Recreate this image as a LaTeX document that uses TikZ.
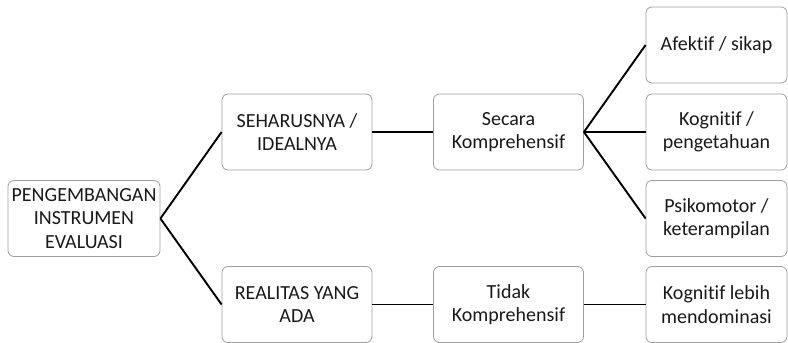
\documentclass[tikz,border=0pt]{standalone}
\usepackage{fontspec}
\setmainfont{Carlito}[Ligatures=NoCommon]
\usetikzlibrary{positioning}

\begin{document}
\begin{tikzpicture}[x=1pt, y=-1pt,
  every node/.style={font=\fontsize{20}{23.5}\selectfont, text=black!90},
  box/.style={draw=gray!75, rounded corners=6pt, minimum width=150pt,
              minimum height=76pt, inner sep=1pt, align=center, line width=0.8pt},
  leaf/.style={box, minimum width=141pt},
  link/.style={line width=1.9pt}]
  \useasboundingbox (0,0) rectangle (788,343);
  % Root (left)
  \node[box, minimum width=152pt] (root) at (84, 218.5) {PENGEMBANGAN\\INSTRUMEN\\EVALUASI};
  % Middle columns
  \node[box] (ideal)  at (297, 132)   {SEHARUSNYA /\\IDEALNYA};
  \node[box] (secara) at (508.5, 132) {Secara\\Komprehensif};
  \node[box] (real)   at (297, 304.5) {REALITAS YANG\\ADA};
  \node[box] (tidak)  at (508.5, 304.5) {Tidak\\Komprehensif};
  % Right column
  \node[leaf] (afektif)  at (716.5, 45)    {Afektif / sikap};
  \node[leaf] (kognitif) at (716.5, 132)   {Kognitif /\\pengetahuan};
  \node[leaf] (psiko)    at (716.5, 218.5) {Psikomotor /\\keterampilan};
  \node[leaf] (dominan)  at (716.5, 304.5) {Kognitif lebih\\mendominasi};
  % Branches from root
  \draw[link] (root.east) -- (ideal.west);
  \draw[link] (root.east) -- (real.west);
  % Upper path
  \draw[link] (ideal) -- (secara);
  \draw[link] (secara.east) -- (afektif.west);
  \draw[link] (secara.east) -- (kognitif.west);
  \draw[link] (secara.east) -- (psiko.west);
  % Lower path
  \draw[link] (real) -- (tidak);
  \draw[link] (tidak) -- (dominan);
\end{tikzpicture}
\end{document}
